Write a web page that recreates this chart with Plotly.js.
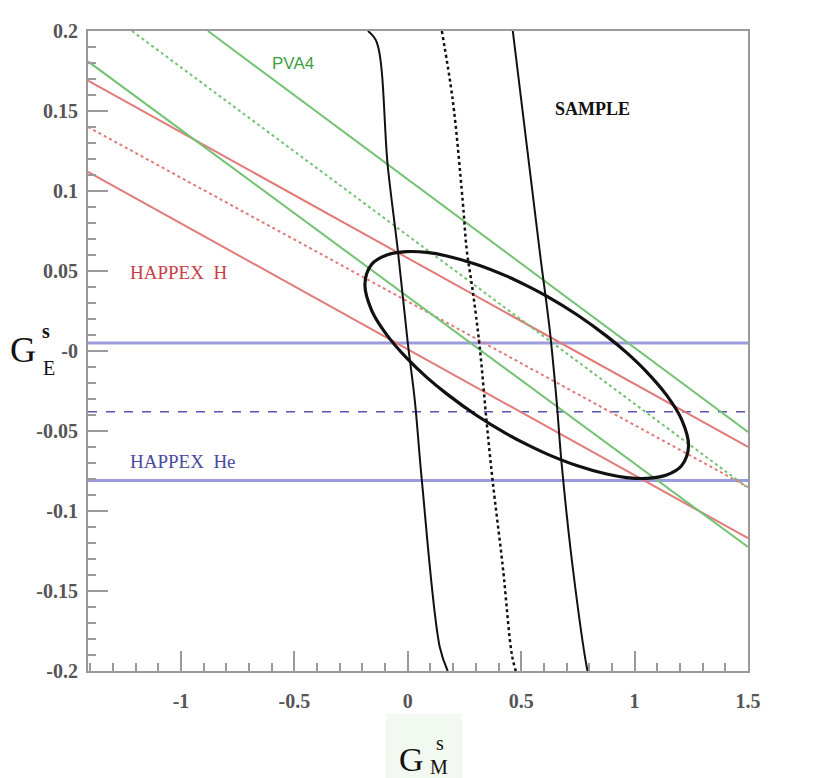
<!DOCTYPE html>
<html>
<head>
<meta charset="utf-8">
<script src="https://cdn.plot.ly/plotly-3.0.1.min.js"></script>
<style>html,body{margin:0;padding:0;background:#fff;}#chart{width:823px;height:778px;}</style>
</head>
<body>
<div id="chart"></div>
<script>
// ---- data ----
// HAPPEX H band (red): endpoints [x], [y]
const hH_upper_x = [-1.41, 1.5], hH_upper_y = [0.169, -0.060];
const hH_center_x = [-1.41, 1.5], hH_center_y = [0.140, -0.085];
const hH_lower_x = [-1.41, 1.5], hH_lower_y = [0.112, -0.117];
// PVA4 band (green)
const pva_upper_x = [-0.881, 1.5], pva_upper_y = [0.200, -0.0506];
const pva_center_x = [-1.216, 1.5], pva_center_y = [0.200, -0.0856];
const pva_lower_x = [-1.41, 1.5], pva_lower_y = [0.181, -0.1225];
// HAPPEX He band (blue, horizontal)
const hHe_x = [-1.41, 1.5];
const hHe_upper = 0.005, hHe_center = -0.038, hHe_lower = -0.081;
// SAMPLE band (black, near vertical curves)
const smp_left_x = [-0.176, -0.137, -0.088, -0.044, 0.000, 0.031, 0.062, 0.141, 0.176];
const smp_left_y = [0.200, 0.193, 0.115, 0.063, 0.005, -0.031, -0.081, -0.185, -0.200];
const smp_center_x = [0.150, 0.198, 0.242, 0.260, 0.286, 0.317, 0.348, 0.374, 0.419, 0.458, 0.476];
const smp_center_y = [0.200, 0.157, 0.094, 0.063, 0.038, 0.0025, -0.045, -0.081, -0.135, -0.189, -0.200];
const smp_right_x = [0.463, 0.581, 0.626, 0.656, 0.678, 0.727, 0.789, 0.793];
const smp_right_y = [0.200, 0.063, 0.013, -0.031, -0.070, -0.135, -0.1975, -0.200];
// combined ellipse (points read around its outline)
const ell_x = [-0.189, -0.159, -0.0925, -0.0044, 0.0837, 0.1718, 0.3040, 0.4361, 0.5242, 0.6123, 0.7445, 0.8767, 0.9648, 1.0529, 1.1410, 1.2070, 1.2379,
               1.2070, 1.1410, 1.0529, 0.9648, 0.8767, 0.7445, 0.6123, 0.5242, 0.4361, 0.3040, 0.1718, 0.0837, -0.0044, -0.0925, -0.159, -0.189];
const ell_y = [0.0419, 0.0542, 0.0600, 0.0621, 0.0616, 0.0594, 0.0541, 0.0468, 0.0409, 0.0343, 0.0228, 0.0093, -0.0010, -0.0130, -0.0276, -0.0428, -0.0594,
               -0.0717, -0.0775, -0.0796, -0.0791, -0.0769, -0.0716, -0.0643, -0.0584, -0.0518, -0.0403, -0.0268, -0.0165, -0.0045, 0.0101, 0.0253, 0.0419];
// ticks
const xTickVals = [-1, -0.5, 0, 0.5, 1, 1.5];
const xTickText = ['-1', '-0.5', '0', '0.5', '1', '1.5'];
const yTickVals = [0.2, 0.15, 0.1, 0.05, 0, -0.05, -0.1, -0.15, -0.2];
const yTickText = ['0.2', '0.15', '0.1', '0.05', '-0', '-0.05', '-0.1', '-0.15', '-0.2'];

const RED = '#e27a78', GREEN = '#74c274', BLUE = '#9c9cdc', BLUED = '#5656b6', BLACK = '#111';

function ln(x, y, color, width, dash, shape) {
  return {x: x, y: y, mode: 'lines', type: 'scatter', hoverinfo: 'skip', showlegend: false,
    line: {color: color, width: width, dash: dash || 'solid', shape: shape || 'linear', smoothing: 1}};
}
function hline(yv, color, width, dash) {
  return ln(hHe_x, hHe_x.map(() => yv), color, width, dash);
}

const traces = [
  hline(hHe_upper, BLUE, 3),
  hline(hHe_center, BLUED, 1.6, 'dash'),
  hline(hHe_lower, BLUE, 3),
  ln(hH_upper_x, hH_upper_y, RED, 2),
  ln(hH_center_x, hH_center_y, RED, 2, 'dot'),
  ln(hH_lower_x, hH_lower_y, RED, 2),
  ln(pva_upper_x, pva_upper_y, GREEN, 2),
  ln(pva_center_x, pva_center_y, GREEN, 2, 'dot'),
  ln(pva_lower_x, pva_lower_y, GREEN, 2),
  ln(smp_left_x, smp_left_y, BLACK, 2, 'solid', 'spline'),
  ln(smp_center_x, smp_center_y, BLACK, 2.5, 'dot', 'spline'),
  ln(smp_right_x, smp_right_y, BLACK, 2, 'solid', 'spline'),
  ln(ell_x, ell_y, BLACK, 3.2, 'solid', 'spline')
];

const serif = 'Liberation Serif, Times New Roman, serif';
const axisCommon = {
  showgrid: false, zeroline: false, showline: true, mirror: true,
  linecolor: '#9a9a9a', linewidth: 2,
  ticks: 'inside', ticklen: 20, tickwidth: 2, tickcolor: '#9a9a9a',
  tickfont: {family: serif, size: 20, color: '#555', weight: 'bold'},
  tickmode: 'array'
};

// pixel helpers for paper coords of the title pieces
const PL = 88, PW = 660, PB = 671, PH = 640;
const px = v => (v - PL) / PW, py = v => (PB - v) / PH;

const layout = {
  width: 823, height: 778,
  margin: {l: 88, r: 75, t: 31, b: 107},
  paper_bgcolor: '#fff', plot_bgcolor: '#fff',
  xaxis: Object.assign({}, axisCommon, {
    range: [-1.41, 1.5], tickvals: xTickVals, ticktext: xTickText,
    ticklabelstandoff: 11,
    minor: {tick0: 0, dtick: 0.1, ticks: 'inside', ticklen: 8, tickwidth: 2, tickcolor: '#9a9a9a'}
  }),
  yaxis: Object.assign({}, axisCommon, {
    range: [-0.2, 0.2], tickvals: yTickVals, ticktext: yTickText,
    ticklabelstandoff: 4,
    minor: {tick0: 0, dtick: 0.01, ticks: 'inside', ticklen: 8, tickwidth: 2, tickcolor: '#9a9a9a'}
  }),
  shapes: [
    {type: 'rect', xref: 'paper', yref: 'paper', x0: px(386), x1: px(462), y0: py(778), y1: py(714),
     fillcolor: '#f2f9f0', line: {width: 0}, layer: 'below'}
  ],
  annotations: [
    {text: 'PVA4', x: -0.507, y: 0.180, xref: 'x', yref: 'y', showarrow: false,
     font: {family: 'Liberation Sans, Arial, sans-serif', size: 17, color: '#3f9f3f'}},
    {text: 'SAMPLE', x: 0.815, y: 0.151, xref: 'x', yref: 'y', showarrow: false,
     font: {family: serif, size: 18, color: '#111', weight: 'bold'}},
    {text: 'HAPPEX  H', x: -1.233, y: 0.049, xref: 'x', yref: 'y', showarrow: false, xanchor: 'left',
     font: {family: serif, size: 19, color: '#c8404a'}},
    {text: 'HAPPEX  He', x: -1.233, y: -0.069, xref: 'x', yref: 'y', showarrow: false, xanchor: 'left',
     font: {family: serif, size: 19, color: '#4a4aa0'}},
    // y-axis title G_E^s
    {text: 'G', x: px(38), y: py(350), xref: 'paper', yref: 'paper', xanchor: 'right', yanchor: 'middle', showarrow: false,
     font: {family: serif, size: 36, color: '#111'}},
    {text: 's', x: px(40), y: py(331), xref: 'paper', yref: 'paper', xanchor: 'left', yanchor: 'middle', showarrow: false,
     font: {family: serif, size: 20, color: '#111', weight: 'bold'}},
    {text: 'E', x: px(41), y: py(368), xref: 'paper', yref: 'paper', xanchor: 'left', yanchor: 'middle', showarrow: false,
     font: {family: serif, size: 20, color: '#111'}},
    // x-axis title G_M^s
    {text: 'G', x: px(426), y: py(759), xref: 'paper', yref: 'paper', xanchor: 'right', yanchor: 'middle', showarrow: false,
     font: {family: serif, size: 34, color: '#111'}},
    {text: 's', x: px(434), y: py(743), xref: 'paper', yref: 'paper', xanchor: 'left', yanchor: 'middle', showarrow: false,
     font: {family: serif, size: 20, color: '#111'}},
    {text: 'M', x: px(428), y: py(767), xref: 'paper', yref: 'paper', xanchor: 'left', yanchor: 'middle', showarrow: false,
     font: {family: serif, size: 20, color: '#111'}}
  ]
};

Plotly.newPlot('chart', traces, layout, {displayModeBar: false, staticPlot: true});
</script>
</body>
</html>
